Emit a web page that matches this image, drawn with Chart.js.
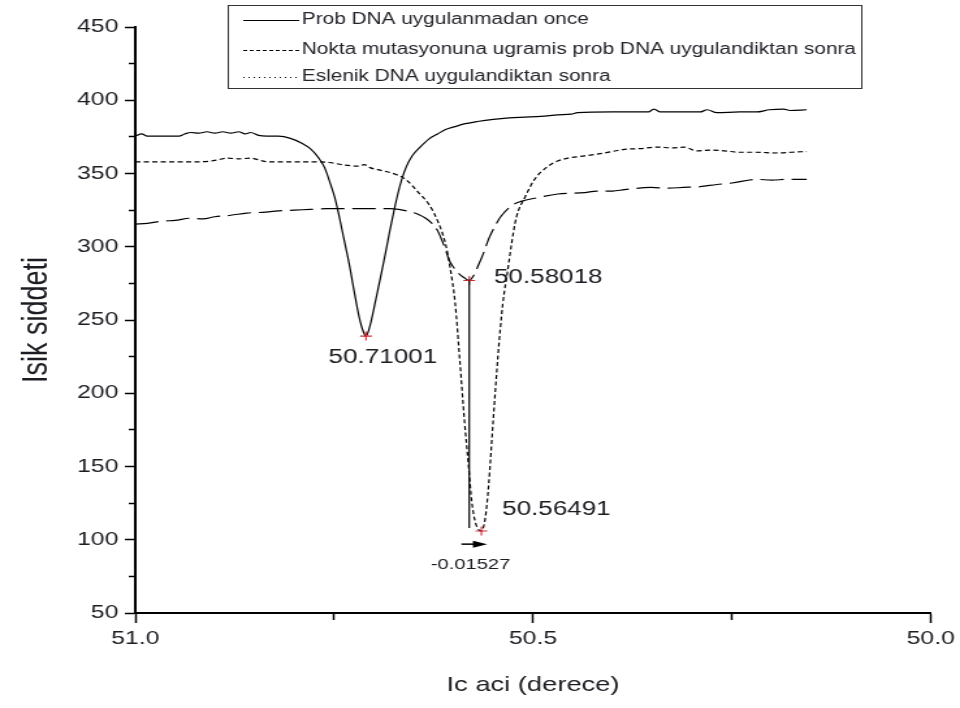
<!DOCTYPE html>
<html>
<head>
<meta charset="utf-8">
<title>Isik siddeti - Ic aci</title>
<script src="https://cdn.jsdelivr.net/npm/chart.js@4.4.1/dist/chart.umd.min.js"></script>
<style>
  html, body { margin: 0; padding: 0; background: #ffffff; }
  canvas { display: block; }
</style>
</head>
<body>
<!-- drawing surface is rendered narrower and widened on screen, giving the wide lettering of the original figure -->
<canvas id="plot" width="738" height="708" style="width:960px;height:708px"></canvas>
<script>
// ---- measured curves: resonance angle (degrees) vs. light intensity ----
const seriesNames = [
  'Prob DNA uygulanmadan once',
  'Nokta mutasyonuna ugramis prob DNA uygulandiktan sonra',
  'Eslenik DNA uygulandiktan sonra'
];

const probAngle = [51.000, 50.992, 50.985, 50.945, 50.938, 50.930, 50.920, 50.910, 50.900, 50.890,
  50.880, 50.870, 50.862, 50.855, 50.845, 50.835, 50.820, 50.805, 50.790, 50.780,
  50.770, 50.762, 50.756, 50.750, 50.745, 50.738, 50.731, 50.725, 50.719, 50.714,
  50.71001, 50.705, 50.698, 50.691, 50.685, 50.680, 50.675, 50.670, 50.665, 50.659,
  50.652, 50.642, 50.631, 50.620, 50.610, 50.598, 50.585, 50.570, 50.550, 50.530,
  50.510, 50.490, 50.469, 50.452, 50.444, 50.400, 50.355, 50.348, 50.340, 50.290,
  50.281, 50.269, 50.240, 50.219, 50.203, 50.185, 50.177, 50.156];
const probIntensity = [375.5, 377, 375.5, 375.5, 377, 378, 377.5, 378.5, 377.5, 378.5,
  377.5, 378.5, 377, 378, 376, 375.5, 375.5, 374, 370.5, 367,
  361, 354, 345, 335, 324, 306, 288, 270, 253, 243,
  239, 246, 263, 281, 297, 311, 324, 336, 346, 355,
  362, 368, 373.5, 377, 380, 382, 384, 385.5, 387, 388,
  388.5, 389, 390, 390.5, 391.5, 392, 392, 394, 392, 392,
  393.5, 391.5, 392, 392, 393.5, 394, 393, 393.5];

const mutantAngle = [51.000, 50.960, 50.920, 50.905, 50.895, 50.885, 50.870, 50.855, 50.843, 50.835,
  50.800, 50.775, 50.756, 50.740, 50.720, 50.712, 50.705, 50.690, 50.673, 50.660,
  50.644, 50.631, 50.619, 50.610, 50.604, 50.598, 50.592, 50.586, 50.581, 50.577,
  50.572, 50.56491, 50.560, 50.556, 50.550, 50.544, 50.538, 50.531, 50.527, 50.521,
  50.510, 50.498, 50.481, 50.469, 50.456, 50.435, 50.410, 50.385, 50.365, 50.344,
  50.325, 50.310, 50.294, 50.275, 50.260, 50.240, 50.219, 50.195, 50.175, 50.156];
const mutantIntensity = [358, 358, 358, 358.5, 359.5, 360.5, 360, 360.5, 359, 358,
  358, 358, 357.5, 356, 355, 356, 354, 352, 349.5, 346,
  337, 329, 316.5, 302, 285, 262, 222, 180, 150, 126,
  111, 106, 115, 136, 182, 226, 261, 287, 302, 320,
  334, 346, 355, 358.5, 360.5, 362, 364, 366.5, 367, 368,
  367.5, 368, 365.5, 366, 365.5, 364.5, 364.5, 364, 364.5, 365];

const complementAngle = [51.000, 50.985, 50.965, 50.950, 50.930, 50.915, 50.900, 50.880, 50.860, 50.840,
  50.820, 50.800, 50.780, 50.760, 50.740, 50.720, 50.700, 50.680, 50.669, 50.655,
  50.644, 50.635, 50.627, 50.620, 50.615, 50.610, 50.606, 50.600, 50.594, 50.587,
  50.58018, 50.575, 50.569, 50.562, 50.556, 50.548, 50.540, 50.527, 50.515, 50.494,
  50.469, 50.435, 50.420, 50.400, 50.385, 50.352, 50.330, 50.311, 50.290, 50.269,
  50.250, 50.219, 50.200, 50.180, 50.156];
const complementIntensity = [315.5, 316, 317.5, 318, 319.5, 319, 320.5, 321.5, 323, 323.5,
  324.5, 325, 325.5, 326, 326, 326, 326, 326, 325.5, 324,
  322, 319.5, 316, 311, 305, 298, 291.5, 286, 282, 279,
  277, 280, 287, 296, 305, 314, 321, 328, 331, 333.5,
  336, 337, 338, 338, 339, 340.5, 340, 340.5, 341, 342.5,
  343.5, 346, 345.5, 346, 346];

// resonance minima: [prob, mutant, complement]
const dipAngle = [50.71001, 50.56491, 50.58018];
const dipIntensity = [239, 106, 277];

// axes
const angleRange = [50.0, 51.0];
const intensityRange = [50, 450];
const angleTickStep = 0.25, angleLabelStep = 0.5;
const intensityTickStep = 25, intensityLabelStep = 50;
const axisTitles = ['Ic aci (derece)', 'Isik siddeti'];

// ---- helpers ----
const toPoints = (xs, ys) => xs.map((x, i) => ({ x: x, y: ys[i] }));
const isLabelled = (v, step) => Math.abs(v / step - Math.round(v / step)) < 1e-9;
const INK = '#1c1c22';

Chart.defaults.font.family = "'Liberation Sans', Arial, Helvetica, sans-serif";
Chart.defaults.color = INK;

// framed key in the upper part of the plot
const keyBox = {
  id: 'keyBox',
  afterDraw(chart) {
    const ctx = chart.ctx;
    const rowY = [20, 50, 77];
    const dashes = [[], [3, 2], [1, 3]];
    ctx.save();
    ctx.strokeStyle = '#333';
    ctx.lineWidth = 1;
    ctx.strokeRect(175.5, 5.5, 487, 83);
    ctx.font = "16px 'Liberation Sans', Arial, sans-serif";
    ctx.textBaseline = 'middle';
    ctx.fillStyle = '#26232b';
    for (let i = 0; i < 3; i++) {
      ctx.beginPath();
      ctx.setLineDash(dashes[i]);
      ctx.strokeStyle = '#000';
      ctx.lineWidth = 1.1;
      ctx.moveTo(187, rowY[i] + 0.5);
      ctx.lineTo(230, rowY[i] + 0.5);
      ctx.stroke();
      ctx.setLineDash([]);
      ctx.fillText(chart.data.datasets[i].label, 232, rowY[i]);
    }
    ctx.restore();
  }
};

// shift between the two hybridisation minima
const shiftMarks = {
  id: 'shiftMarks',
  afterDatasetsDraw(chart) {
    const ctx = chart.ctx;
    const xs = chart.scales.x, ys = chart.scales.y;
    const px = v => xs.getPixelForValue(v);
    const py = v => ys.getPixelForValue(v);
    const shiftLineFoot = 108, arrowLevel = 97;
    ctx.save();
    // drop line from the complement minimum
    ctx.strokeStyle = '#000';
    ctx.lineWidth = 1.2;
    ctx.beginPath();
    ctx.moveTo(px(dipAngle[2]), py(dipIntensity[2]));
    ctx.lineTo(px(dipAngle[2]), py(shiftLineFoot));
    ctx.stroke();
    // arrow from complement minimum toward mutant minimum
    const ay = py(arrowLevel);
    const a0 = px(dipAngle[2]) - 6, a1 = px(dipAngle[1]) + 4.5;
    ctx.lineWidth = 1.5;
    ctx.beginPath();
    ctx.moveTo(a0, ay);
    ctx.lineTo(a1 - 6, ay);
    ctx.stroke();
    ctx.fillStyle = '#000';
    ctx.beginPath();
    ctx.moveTo(a1, ay);
    ctx.lineTo(a1 - 11, ay - 3.5);
    ctx.lineTo(a1 - 11, ay + 3.5);
    ctx.closePath();
    ctx.fill();
    // value labels
    ctx.fillStyle = INK;
    ctx.textBaseline = 'middle';
    ctx.font = "20px 'Liberation Sans', Arial, sans-serif";
    ctx.textAlign = 'center';
    ctx.fillText(dipAngle[0].toFixed(5), px(dipAngle[0]) + 13, py(dipIntensity[0]) + 21);
    ctx.textAlign = 'left';
    ctx.fillText(dipAngle[2].toFixed(5), px(dipAngle[2]) + 19, py(dipIntensity[2]) - 3);
    ctx.fillText(dipAngle[1].toFixed(5), px(dipAngle[1]) + 16, py(dipIntensity[1]) - 21);
    ctx.font = "15.5px 'Liberation Sans', Arial, sans-serif";
    ctx.textAlign = 'center';
    ctx.fillText((dipAngle[1] - dipAngle[2]).toFixed(5), px(dipAngle[2]) + 1, ay + 21);
    ctx.restore();
  }
};

const curveStyle = {
  pointRadius: 0,
  pointHoverRadius: 0,
  borderColor: '#000',
  borderWidth: 1.2,
  fill: false,
  cubicInterpolationMode: 'monotone'
};

new Chart(document.getElementById('plot'), {
  type: 'line',
  data: {
    datasets: [
      Object.assign({ label: seriesNames[0], data: toPoints(probAngle, probIntensity) }, curveStyle),
      Object.assign({ label: seriesNames[1], data: toPoints(mutantAngle, mutantIntensity), borderDash: [4, 2.5] }, curveStyle),
      Object.assign({ label: seriesNames[2], data: toPoints(complementAngle, complementIntensity), borderDash: [18, 6] }, curveStyle),
      {
        label: 'minima',
        data: toPoints(dipAngle, dipIntensity),
        showLine: false,
        pointStyle: 'cross',
        pointRadius: 4.5,
        pointBorderColor: '#cc2a36',
        pointBorderWidth: 1.1,
        order: -1
      }
    ]
  },
  options: {
    responsive: false,
    devicePixelRatio: 1,
    animation: false,
    events: [],
    layout: { padding: { top: 27, right: 19, left: 0, bottom: 0 } },
    plugins: { legend: { display: false }, tooltip: { enabled: false } },
    scales: {
      x: {
        type: 'linear',
        reverse: true,
        min: angleRange[0],
        max: angleRange[1],
        afterFit: s => { s.height = 95; },
        ticks: {
          stepSize: angleTickStep,
          autoSkip: false,
          maxRotation: 0,
          padding: 4,
          color: INK,
          font: { size: 19 },
          callback: v => isLabelled(v, angleLabelStep) ? v.toFixed(1) : ''
        },
        grid: {
          drawOnChartArea: false,
          tickLength: 10,
          tickWidth: 1.5,
          tickColor: '#000',
          tickBorderDash: c => (c.tick && !isLabelled(c.tick.value, angleLabelStep)) ? [6, 100] : []
        },
        border: { display: true, color: '#000', width: 2 },
        title: { display: true, text: axisTitles[0], color: INK, font: { size: 21 }, padding: { top: 0, bottom: 10 } }
      },
      y: {
        min: intensityRange[0],
        max: intensityRange[1],
        afterFit: s => { s.width = 104; },
        ticks: {
          stepSize: intensityTickStep,
          autoSkip: false,
          padding: 5,
          color: INK,
          font: { size: 19 },
          callback: v => isLabelled(v, intensityLabelStep) ? String(v) : ''
        },
        grid: {
          drawOnChartArea: false,
          tickLength: 8,
          tickWidth: 1.5,
          tickColor: '#000',
          tickBorderDash: c => (c.tick && !isLabelled(c.tick.value, intensityLabelStep)) ? [0, 3, 4, 100] : []
        },
        border: { display: true, color: '#000', width: 2 },
        title: { display: true, text: axisTitles[1], color: INK, font: { size: 27 }, padding: { top: 12, bottom: 0 } }
      }
    }
  },
  plugins: [keyBox, shiftMarks]
});
</script>
</body>
</html>
